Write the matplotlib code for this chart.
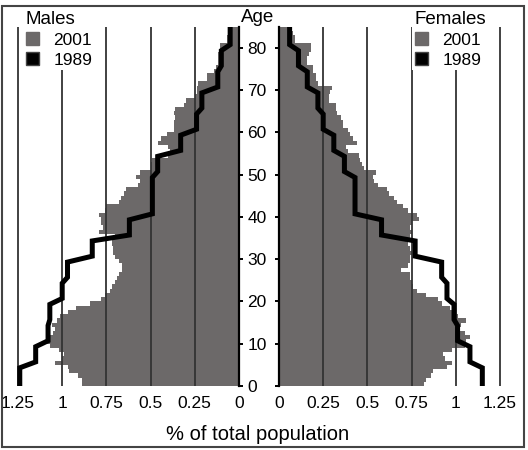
import matplotlib
matplotlib.use("Agg")
import matplotlib.pyplot as plt
from matplotlib.patches import Patch, Rectangle
import numpy as np

plt.rcParams['font.family'] = ['Liberation Sans', 'DejaVu Sans']

# ---- data ----
ages = list(range(0, 85))  # single-year ages 0..84
males_2001 = [0.89, 0.89, 0.91, 0.96, 0.97, 1.04, 1.00, 0.99, 1.02, 1.07,
              1.09, 1.08, 1.05, 1.04, 1.06, 1.03, 1.01, 0.97, 0.92, 0.84,
              0.78, 0.76, 0.73, 0.72, 0.70, 0.69, 0.68, 0.66, 0.66, 0.68,
              0.70, 0.71, 0.71, 0.72, 0.72, 0.70, 0.79, 0.77, 0.78, 0.78,
              0.79, 0.76, 0.75, 0.68, 0.67, 0.65, 0.64, 0.57, 0.56, 0.58,
              0.56, 0.50, 0.50, 0.49, 0.40, 0.39, 0.40, 0.46, 0.44, 0.41,
              0.37, 0.37, 0.37, 0.36, 0.37, 0.36, 0.31, 0.30, 0.25, 0.24,
              0.24, 0.23, 0.18, 0.18, 0.14, 0.13, 0.12, 0.12, 0.12, 0.11,
              0.11, 0.07, 0.07, 0.06, 0.04]
females_2001 = [0.82, 0.83, 0.86, 0.87, 0.95, 0.98, 0.94, 0.93, 0.98, 1.05,
                1.06, 1.08, 1.05, 1.02, 1.03, 1.06, 1.01, 0.98, 0.97, 0.92,
                0.90, 0.83, 0.78, 0.76, 0.75, 0.74, 0.74, 0.69, 0.73, 0.74,
                0.74, 0.75, 0.74, 0.73, 0.72, 0.74, 0.75, 0.74, 0.75, 0.79,
                0.78, 0.73, 0.70, 0.67, 0.65, 0.62, 0.61, 0.56, 0.54, 0.53,
                0.55, 0.48, 0.47, 0.46, 0.45, 0.39, 0.38, 0.44, 0.42, 0.40,
                0.39, 0.36, 0.36, 0.35, 0.33, 0.32, 0.32, 0.28, 0.28, 0.29,
                0.30, 0.22, 0.21, 0.21, 0.19, 0.19, 0.16, 0.16, 0.17, 0.18,
                0.18, 0.09, 0.09, 0.08, 0.06]

group_starts = list(range(0, 85, 5))  # 5-year groups 0-4 .. 80-84
males_1989 = [1.24, 1.15, 1.08, 1.07, 1.00, 0.97, 0.83, 0.62, 0.49, 0.49,
              0.46, 0.33, 0.24, 0.21, 0.12, 0.10, 0.05]
females_1989 = [1.15, 1.08, 1.01, 0.99, 0.95, 0.92, 0.77, 0.58, 0.43, 0.43,
                0.37, 0.31, 0.25, 0.22, 0.16, 0.11, 0.06]

x_ticks = [0, 0.25, 0.5, 0.75, 1, 1.25]
x_ticklabels = ['0', '0.25', '0.5', '0.75', '1', '1.25']
age_ticks = list(range(0, 81, 10))

GRAY = '#6c6969'
GRID = '#333333'

W, H = 528, 450
fig = plt.figure(figsize=(W / 100, H / 100), dpi=100)

XMAX = 1.28
ax_w = XMAX * 176.8 / W
bottom = (H - 386) / H
height = (386 - 26.5) / H
axL = fig.add_axes([(239 - XMAX * 176.8) / W, bottom, ax_w, height])
axR = fig.add_axes([279 / W, bottom, ax_w, height])


def step_path(starts, vals, width=5, d=0.7):
    ys, xs = [], []
    for s, v in zip(starts, vals):
        ys += [s + d, s + width - d]
        xs += [v, v]
    ys[0] = starts[0]
    ys[-1] = starts[-1] + width
    return xs, ys


for ax, v01, v89 in [(axL, males_2001, males_1989), (axR, females_2001, females_1989)]:
    ax.barh(ages, v01, height=1.0, align='edge', color=GRAY, edgecolor='none', zorder=1)
    for t in x_ticks[1:]:
        ax.axvline(t, color=GRID, lw=1.3, zorder=2)
    xs, ys = step_path(group_starts, v89)
    ax.plot(xs, ys, color='black', lw=3.6, solid_joinstyle='miter', zorder=3)
    ax.set_ylim(0, 85)
    ax.set_xticks(x_ticks)
    ax.set_xticklabels(x_ticklabels, fontsize=12.5)
    ax.tick_params(axis='x', length=0, pad=7)
    for sp in ax.spines.values():
        sp.set_visible(False)
    ax.set_facecolor('none')

axL.set_xlim(XMAX, 0)
axR.set_xlim(0, XMAX)

axL.spines['right'].set_visible(True)
axL.spines['right'].set_linewidth(1.6)
axL.yaxis.tick_right()
axL.set_yticks(age_ticks)
axL.set_yticklabels([str(a) for a in age_ticks], fontsize=12.5)
axL.tick_params(axis='y', direction='out', length=3, width=1.4, pad=3)

axR.spines['left'].set_visible(True)
axR.spines['left'].set_linewidth(1.6)
axR.set_yticks(age_ticks)
axR.set_yticklabels([])
axR.tick_params(axis='y', direction='out', length=3, width=1.4)

fig.text(258 / W, 1 - 18 / H, 'Age', ha='center', va='center', fontsize=13.5)
fig.text(258 / W, 1 - 434 / H, '% of total population', ha='center', va='center', fontsize=14.5)

for ax, title, x0 in [(axL, 'Males', 23), (axR, 'Females', 412)]:
    handles = [Patch(facecolor=GRAY, edgecolor=GRAY),
               Patch(facecolor='black', edgecolor='#444444')]
    leg = ax.legend(handles, ['2001', '1989'], title=title, loc='upper left',
                    bbox_to_anchor=(x0 / W, 1 - 8 / H), bbox_transform=fig.transFigure,
                    frameon=True, fancybox=False, edgecolor='none', facecolor='white',
                    framealpha=1, borderpad=0.15, borderaxespad=0, handlelength=0.8,
                    handleheight=0.8, handletextpad=0.8, labelspacing=0.25,
                    alignment='left', fontsize=12.5, title_fontsize=13.5)
    leg.set_zorder(5)

fig.add_artist(Rectangle((1.5 / W, 3.5 / H), 522.5 / W, 441 / H, transform=fig.transFigure,
                         fill=False, edgecolor='#444444', lw=1.5))

fig.savefig('out.png', dpi=100)
